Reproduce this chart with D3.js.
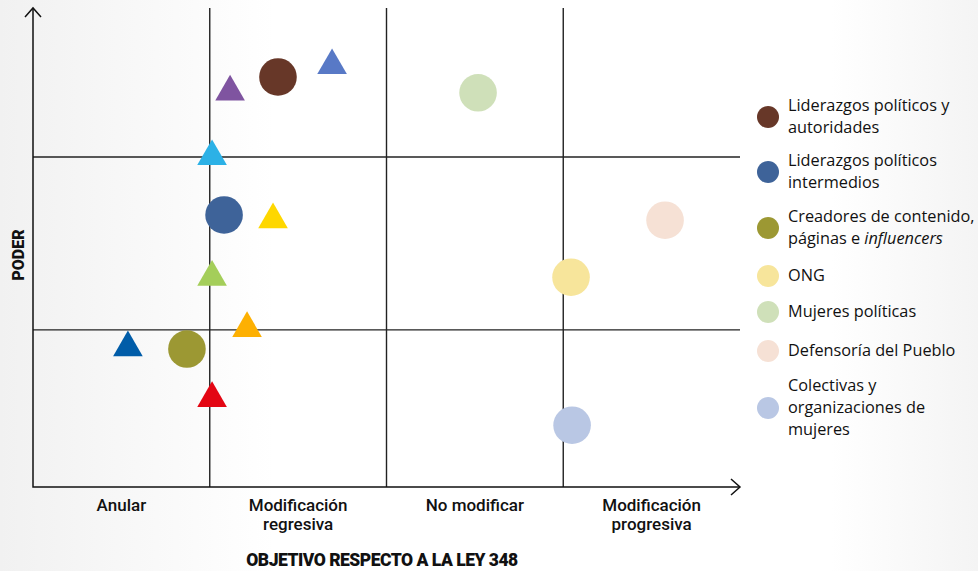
<!DOCTYPE html>
<html>
<head>
<meta charset="utf-8">
<script src="https://cdn.jsdelivr.net/npm/d3@7"></script>
<style>
  body { margin: 0; background: #fff; }
  text { fill: #111; }
</style>
</head>
<body>
<div id="chart"></div>
<script>
var svgWidth = 978;
var svgHeight = 571;

// categories on the x axis (one per column)
var xCategories = [["Anular"], ["Modificación", "regresiva"], ["No modificar"], ["Modificación", "progresiva"]];
var xDividers = [1, 2, 3];
var yDividers = [32.8, 68.9];

// actors: groups drawn as circles
var groupNames = ["Liderazgos políticos y autoridades", "Liderazgos políticos intermedios",
  "Creadores de contenido, páginas e influencers", "ONG", "Mujeres políticas",
  "Defensoría del Pueblo", "Colectivas y organizaciones de mujeres"];
var groupColors = ["#673728", "#3e6399", "#9c9833", "#f7e59b", "#cfe0b9", "#f6e1d5", "#b9c7e4"];
var groupX = [1.386, 1.081, 0.871, 3.044, 2.518, 3.576, 3.050];
var groupY = [85.6, 56.8, 28.8, 43.8, 82.3, 55.7, 12.9];

// individual actors drawn as triangles
var triColors = ["#7f54a0", "#5879c6", "#2cb1e6", "#fed700", "#a4ce5a", "#fdb002", "#005ca8", "#e30613"];
var triX = [1.115, 1.692, 1.013, 1.358, 1.013, 1.211, 0.537, 1.013];
var triY = [82.5, 88.0, 69.0, 55.8, 43.8, 33.1, 29.1, 18.5];

// legend lines (italic parts marked with *)
var legendLines = [["Liderazgos políticos y", "autoridades"], ["Liderazgos políticos", "intermedios"],
  ["Creadores de contenido,", "páginas e *influencers*"], ["ONG"], ["Mujeres políticas"],
  ["Defensoría del Pueblo"], ["Colectivas y", "organizaciones de", "mujeres"]];
var legendY = [117, 172, 228, 276, 312, 351, 408];

var svg = d3.select("#chart")
  .append("svg")
    .attr("width", svgWidth)
    .attr("height", svgHeight);

// soft background
var grad = svg.append("defs").append("linearGradient").attr("id", "bg");
grad.append("stop").attr("offset", "0%").attr("stop-color", "#f1f1f1");
grad.append("stop").attr("offset", "28%").attr("stop-color", "#ffffff");
grad.append("stop").attr("offset", "85%").attr("stop-color", "#ffffff");
grad.append("stop").attr("offset", "100%").attr("stop-color", "#f4f4f4");
svg.append("rect").attr("width", svgWidth).attr("height", svgHeight).attr("fill", "url(#bg)");

var x = d3.scaleLinear().domain([0, 4]).range([33, 740]);
var y = d3.scaleLinear().domain([0, 100]).range([487, 8]);

// grid lines
svg.selectAll(".vline")
  .data(xDividers)
  .enter()
  .append("line")
    .attr("x1", d => x(d)).attr("x2", d => x(d))
    .attr("y1", y(100)).attr("y2", y(0))
    .attr("stroke", "#222").attr("stroke-width", 1.4);

svg.selectAll(".hline")
  .data(yDividers)
  .enter()
  .append("line")
    .attr("x1", x(0)).attr("x2", x(4))
    .attr("y1", d => y(d)).attr("y2", d => y(d))
    .attr("stroke", "#222").attr("stroke-width", 1.4);

// axes with arrows
svg.append("path")
  .attr("d", `M${x(0)},${y(100)} V${y(0)} H${x(4)}`)
  .attr("fill", "none").attr("stroke", "#111").attr("stroke-width", 1.5);
svg.append("path")
  .attr("d", `M${x(0) - 8},${y(100) + 9} L${x(0)},${y(100)} L${x(0) + 8},${y(100) + 9}`)
  .attr("fill", "none").attr("stroke", "#111").attr("stroke-width", 1.5);
svg.append("path")
  .attr("d", `M${x(4) - 9},${y(0) - 8} L${x(4)},${y(0)} L${x(4) - 9},${y(0) + 8}`)
  .attr("fill", "none").attr("stroke", "#111").attr("stroke-width", 1.5);

// x category labels
var catLabels = svg.selectAll(".cat")
  .data(xCategories)
  .enter()
  .append("text")
    .attr("text-anchor", "middle")
    .style("font-family", "Roboto, sans-serif")
    .style("font-size", "17px")
    .style("font-weight", 500)
    .attr("transform", (d, i) => `translate(${x(i + 0.5)}, 511)`);
catLabels.selectAll("tspan")
  .data(d => d)
  .enter()
  .append("tspan")
    .attr("x", 0)
    .attr("dy", (d, i) => i === 0 ? 0 : 19)
    .text(d => d);

// axis titles
svg.append("text")
  .attr("x", 382).attr("y", 566)
  .attr("text-anchor", "middle")
  .style("font-family", "Roboto, sans-serif")
  .style("font-weight", 900).style("font-size", "17.5px")
  .style("letter-spacing", "-0.5px")
  .text("OBJETIVO RESPECTO A LA LEY 348");

svg.append("text")
  .attr("transform", "translate(24, 255) rotate(-90)")
  .attr("text-anchor", "middle")
  .style("font-family", "Roboto, sans-serif")
  .style("font-weight", 900).style("font-size", "16px")
  .text("PODER");

// circles
svg.selectAll(".group")
  .data(groupNames)
  .enter()
  .append("circle")
    .attr("cx", (d, i) => x(groupX[i]))
    .attr("cy", (d, i) => y(groupY[i]))
    .attr("r", 18.8)
    .attr("fill", (d, i) => groupColors[i]);

// triangles
var tri = d3.symbol().type(d3.symbolTriangle).size(380);
svg.selectAll(".tri")
  .data(triColors)
  .enter()
  .append("path")
    .attr("d", tri)
    .attr("transform", (d, i) => `translate(${x(triX[i])}, ${y(triY[i])})`)
    .attr("fill", d => d);

// legend
var legend = svg.selectAll(".legend")
  .data(groupNames)
  .enter()
  .append("g")
    .attr("transform", (d, i) => `translate(768, ${legendY[i]})`);

legend.append("circle")
  .attr("r", 11)
  .attr("fill", (d, i) => groupColors[i]);

legend.each(function(d, i) {
  var lines = legendLines[i];
  var t = d3.select(this).append("text")
    .attr("x", 20)
    .attr("y", 5 - (lines.length - 1) * 11)
    .style("font-family", "'Open Sans', sans-serif")
    .style("font-size", "16.3px");
  lines.forEach(function(line, j) {
    var parts = line.split("*");
    parts.forEach(function(p, k) {
      if (!p) return;
      var ts = t.append("tspan").text(p);
      if (k === 0 && j > 0) ts.attr("x", 20).attr("dy", 22);
      if (k === 0 && j === 0) ts.attr("x", 20);
      if (k % 2 === 1) ts.style("font-style", "italic");
    });
  });
});
</script>
</body>
</html>
